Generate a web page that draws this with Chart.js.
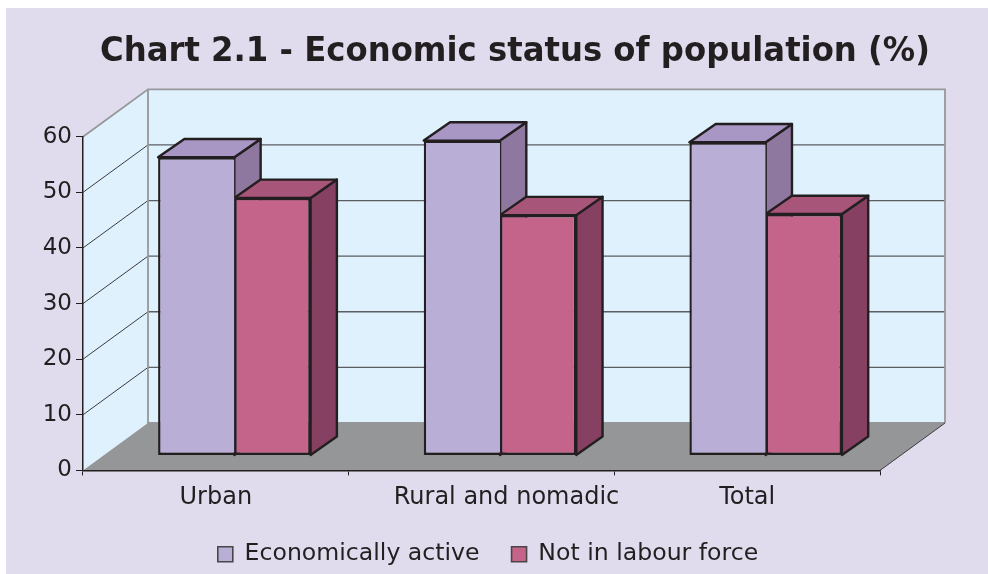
<!DOCTYPE html>
<html><head><meta charset="utf-8">
<style>
html,body{margin:0;padding:0;background:#fff;width:988px;height:574px;overflow:hidden}
#panel{position:absolute;left:6px;top:8px;width:982px;height:566px;background:#E0DCEE}
#c{position:absolute;left:0;top:0}
</style>
<script src="https://cdn.jsdelivr.net/npm/chart.js@4/dist/chart.umd.min.js"></script>
</head><body>
<div id="panel"></div>
<canvas id="c" width="988" height="574"></canvas>
<script>
const categories = ['Urban', 'Rural and nomadic', 'Total'];
const economicallyActive = [53.6, 56.6, 56.3];
const notInLabourForce = [46.3, 43.2, 43.4];
const yTicks = [0, 10, 20, 30, 40, 50, 60];
const titleText = 'Chart 2.1 - Economic status of population (%)';

const INK = '#231F20';
const FONT = '"DejaVu Sans", Verdana, sans-serif';
const WALL = {dx: 65, dy: -47.4};
const BAR_SHIFT = {dx: 18.5, dy: -15};
const BAR_DEPTH = {dx: 26.3, dy: -18.3};
const BAR_LINE = 2.4;
const FACES = [
  {top: '#A897C4', side: '#8E789F'},
  {top: '#A8557A', side: '#854062'}
];

const scene3d = {
  id: 'scene3d',
  afterLayout(chart) {
    // centre title and legend where the reference has them
    const t = chart.titleBlock; t.left = 100; t.right = 930;
    const l = chart.legend; const off = 488 - (l.left + l.right) / 2;
    l.left += off; l.right += off; l.top += 2; l.bottom += 2;
  },
  beforeDraw(chart) {
    const {ctx, chartArea: a, scales: {x, y}} = chart;
    // nudge the middle category label as in the reference
    const items = x.getLabelItems(a);
    if (items[1] && !items[1].nudged) { items[1].options.translation[0] += 25; items[1].nudged = true; }

    const bx = a.left + WALL.dx, ex = a.right + WALL.dx;
    const by = a.bottom + WALL.dy, ty = a.top + WALL.dy;
    ctx.save();
    ctx.fillStyle = '#DEF1FC';
    ctx.fillRect(bx, ty, ex - bx, by - ty);
    ctx.beginPath();
    ctx.moveTo(a.left, a.top); ctx.lineTo(bx, ty); ctx.lineTo(bx, by); ctx.lineTo(a.left, a.bottom);
    ctx.closePath(); ctx.fill();
    yTicks.slice(1, -1).forEach(v => {
      const py = y.getPixelForValue(v);
      ctx.strokeStyle = '#3c3c3e'; ctx.lineWidth = 1;
      ctx.beginPath(); ctx.moveTo(a.left, py); ctx.lineTo(bx, py + WALL.dy); ctx.stroke();
      ctx.strokeStyle = '#5b5d60'; ctx.lineWidth = 1.3;
      ctx.beginPath(); ctx.moveTo(bx, py + WALL.dy); ctx.lineTo(ex, py + WALL.dy); ctx.stroke();
    });
    ctx.strokeStyle = '#96989B'; ctx.lineWidth = 1.8;
    ctx.beginPath();
    ctx.moveTo(a.left, a.top); ctx.lineTo(bx, ty); ctx.lineTo(ex, ty); ctx.lineTo(ex, by);
    ctx.moveTo(bx, ty); ctx.lineTo(bx, by); ctx.lineTo(ex, by);
    ctx.stroke();
    ctx.fillStyle = '#959698';
    ctx.beginPath();
    ctx.moveTo(a.left, a.bottom); ctx.lineTo(bx, by); ctx.lineTo(ex, by); ctx.lineTo(a.right, a.bottom);
    ctx.closePath(); ctx.fill();
    ctx.strokeStyle = '#3c3c3e'; ctx.lineWidth = 1;
    ctx.beginPath(); ctx.moveTo(ex, by); ctx.lineTo(a.right, a.bottom); ctx.stroke();
    ctx.restore();
  },
  beforeDatasetsDraw(chart) {
    // side and top faces, back to front, before any front face
    const {ctx} = chart;
    const D = BAR_DEPTH;
    ctx.save();
    ctx.translate(BAR_SHIFT.dx, BAR_SHIFT.dy);
    ctx.lineWidth = BAR_LINE; ctx.strokeStyle = INK; ctx.lineJoin = 'round';
    chart.data.datasets.forEach((ds, i) => {
      chart.getDatasetMeta(i).data.forEach(el => {
        const p = el.getProps(['x', 'y', 'base', 'width'], true);
        const L = p.x - p.width / 2, R = p.x + p.width / 2;
        ctx.fillStyle = FACES[i].side;
        ctx.beginPath();
        ctx.moveTo(R, p.y); ctx.lineTo(R + D.dx, p.y + D.dy);
        ctx.lineTo(R + D.dx, p.base + D.dy); ctx.lineTo(R, p.base);
        ctx.closePath(); ctx.fill(); ctx.stroke();
        ctx.fillStyle = FACES[i].top;
        ctx.beginPath();
        ctx.moveTo(L, p.y); ctx.lineTo(L + D.dx, p.y + D.dy);
        ctx.lineTo(R + D.dx, p.y + D.dy); ctx.lineTo(R, p.y);
        ctx.closePath(); ctx.fill(); ctx.stroke();
      });
    });
    ctx.restore();
  },
  beforeDatasetDraw(chart) {
    chart.ctx.save();
    chart.ctx.translate(BAR_SHIFT.dx, BAR_SHIFT.dy);
  },
  afterDatasetDraw(chart) { chart.ctx.restore(); }
};

new Chart(document.getElementById('c'), {
  type: 'bar',
  data: {
    labels: categories,
    datasets: [
      {label: 'Economically active', data: economicallyActive,
       backgroundColor: '#B9AED6', borderColor: INK, borderWidth: BAR_LINE, borderSkipped: 'right', clip: false},
      {label: 'Not in labour force', data: notInLabourForce,
       backgroundColor: '#C4648A', borderColor: INK, borderWidth: BAR_LINE, borderSkipped: false, clip: false}
    ]
  },
  plugins: [scene3d],
  options: {
    responsive: false,
    animation: false,
    layout: {padding: {left: 0, right: 108, top: 0, bottom: 0}},
    datasets: {bar: {categoryPercentage: 0.574, barPercentage: 1}},
    plugins: {
      tooltip: {enabled: false},
      title: {
        display: true, text: titleText, color: INK,
        font: {family: FONT, size: 34, weight: 'bold', lineHeight: 1.2},
        padding: {top: 31.5, bottom: 64.4}
      },
      legend: {
        position: 'bottom',
        labels: {
          color: INK, font: {family: FONT, size: 23.6},
          boxWidth: 15, boxHeight: 15, padding: 32,
          generateLabels(chart) {
            const items = Chart.defaults.plugins.legend.labels.generateLabels(chart);
            items.forEach(it => { it.lineWidth = 1.6; it.strokeStyle = '#4a4648'; });
            return items;
          }
        }
      }
    },
    scales: {
      x: {
        offset: true,
        grid: {display: true, offset: true, drawOnChartArea: false, drawTicks: true, tickLength: 5, tickColor: INK, tickWidth: 1},
        border: {color: INK, width: 1.5},
        ticks: {color: INK, font: {family: FONT, size: 24}, padding: 8, maxRotation: 0, autoSkip: false},
        afterFit(s) { s.height = 38; }
      },
      y: {
        min: 0, max: 60,
        afterBuildTicks(s) { s.ticks = yTicks.map(v => ({value: v})); },
        grid: {display: true, drawOnChartArea: false, drawTicks: true, tickLength: 7, tickColor: INK, tickWidth: 1},
        border: {color: INK, width: 1.5},
        ticks: {color: INK, font: {family: FONT, size: 23}, padding: 4},
        afterFit(s) { s.width = 83; }
      }
    }
  }
});
</script>
</body></html>
